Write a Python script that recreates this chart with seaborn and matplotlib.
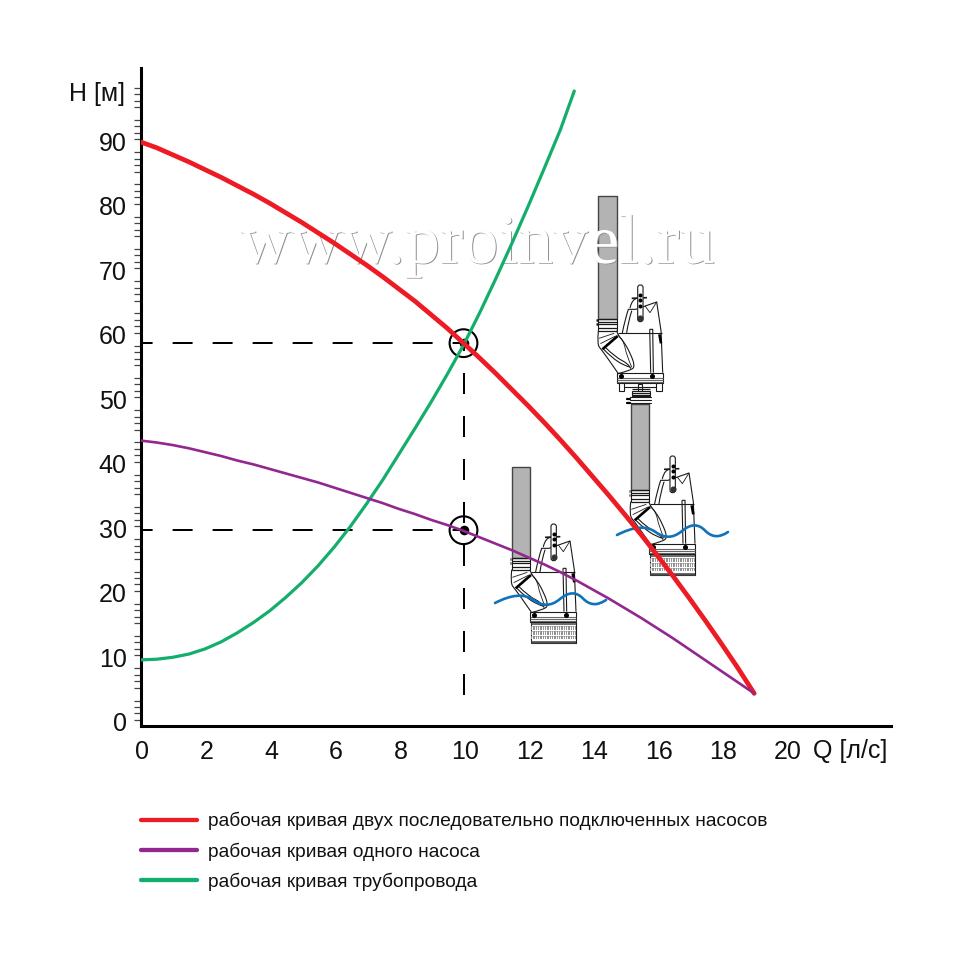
import numpy as np
import matplotlib
matplotlib.use("Agg")
import matplotlib.pyplot as plt
import matplotlib.patheffects as pe
from matplotlib.lines import Line2D
from matplotlib.path import Path
from matplotlib.patches import PathPatch, Rectangle, FancyBboxPatch
from matplotlib.transforms import ScaledTranslation
import seaborn as sns

# values
q_red = [0, 0.5, 1, 1.5, 2, 2.5, 3, 3.5, 4, 4.5, 5, 5.5, 6, 6.5, 7, 7.5, 8, 8.5, 9, 9.5,
         10, 10.5, 11, 11.5, 12, 12.5, 13, 13.5, 14, 14.5, 15, 15.5, 16, 16.5, 17, 17.5, 18, 18.5, 19]
h_red = [90.6, 89.7, 88.6, 87.5, 86.3, 85.1, 83.8, 82.5, 81.1, 79.6, 78.1, 76.5, 74.9, 73.2,
         71.5, 69.7, 67.8, 65.9, 63.8, 61.7, 59.4, 57.1, 54.7, 52.2, 49.7, 47.1, 44.4, 41.6,
         38.7, 35.8, 32.8, 29.7, 26.5, 23.2, 19.8, 16.3, 12.7, 9.0, 5.1]
q_purple = q_red
h_purple = [44.3, 44.0, 43.6, 43.1, 42.5, 41.9, 41.2, 40.6, 39.9, 39.2, 38.5, 37.8, 37.0, 36.2,
            35.4, 34.6, 33.7, 32.9, 32.0, 31.2, 30.3, 29.3, 28.3, 27.3, 26.2, 25.1, 23.9, 22.6,
            21.2, 19.8, 18.3, 16.8, 15.2, 13.6, 11.9, 10.2, 8.5, 6.8, 5.1]
q_green = [0, 0.5, 1, 1.5, 2, 2.5, 3, 3.5, 4, 4.5, 5, 5.5, 6, 6.5, 7, 7.5, 8, 8.5, 9, 9.5,
           10, 10.5, 11, 11.5, 12, 12.5, 13, 13.43]
h_green = [10.3, 10.4, 10.7, 11.2, 12.0, 13.1, 14.5, 16.1, 17.9, 20.0, 22.3, 24.9, 27.8, 31.0,
           34.5, 38.2, 42.2, 46.2, 50.3, 54.6, 59.1, 64.1, 69.4, 74.9, 80.6, 86.5, 92.5, 98.5]

q_points = [10, 10]
h_points = [59.4, 30.4]
h_drop_bottom = 4.9

x_ticks = [0, 2, 4, 6, 8, 10, 12, 14, 16, 18, 20]
y_ticks = [0, 10, 20, 30, 40, 50, 60, 70, 80, 90]
y_minor = [v for v in range(1, 100) if v % 5 != 0]

legend_labels = ["рабочая кривая двух последовательно подключенных насосов",
                 "рабочая кривая одного насоса",
                 "рабочая кривая трубопровода"]

RED = "#ED1C24"
PURPLE = "#92278F"
GREEN = "#14AE6C"
BLUE = "#0F72BA"
PIPE = "#B3B3B3"
INK = "#1a1a1a"

sns.set_style("white")
plt.rcParams["font.family"] = ["Liberation Sans", "DejaVu Sans"]


def curve(ax, pts, lw=0.8, color=INK, z=3):
    # quadratic spline through the midpoints of the given control points
    verts = [pts[0]]
    codes = [Path.MOVETO]
    for i in range(1, len(pts) - 1):
        a, b = pts[i], pts[i + 1]
        end = b if i == len(pts) - 2 else ((a[0] + b[0]) / 2, (a[1] + b[1]) / 2)
        verts += [a, end]
        codes += [Path.CURVE3, Path.CURVE3]
    ax.add_patch(PathPatch(Path(verts, codes), fill=False, lw=lw, ec=color,
                           capstyle="round", zorder=z))


def draw_pump(ax, dx, dy, pipe_top, strainer=True):
    # outline is given in zoomed picture units, 3 units per pixel
    def P(x, y):
        return 495 + x / 3 + dx, 520 + y / 3 + dy

    def poly(pts, **kw):
        curve(ax, [P(*p) for p in pts], **kw)

    def seg(pts, lw=0.8, color=INK):
        xy = np.array([P(*p) for p in pts])
        ax.plot(xy[:, 0], xy[:, 1], color=color, lw=lw, solid_capstyle="butt", zorder=3)

    def rect(x0, y0, x1, y1, fc="white", ec=INK, lw=0.8):
        (a, b), (c, d) = P(x0, y0), P(x1, y1)
        ax.add_patch(Rectangle((a, b), c - a, d - b, fc=fc, ec=ec, lw=lw, zorder=2))

    # pipe and collar
    y_top = (pipe_top - 520 - dy) * 3
    rect(50, y_top, 105, 114, fc=PIPE, ec="#444444", lw=1.0)
    for y in (114, 122, 130, 140, 150):
        seg([(50, y), (105, y)], lw=0.9)
    seg([(50, 114), (50, 150)])
    seg([(105, 114), (105, 150)])
    seg([(44, 117), (49, 117)], lw=1.8)
    seg([(44, 130), (49, 130)], lw=1.8)

    # elbow and volute
    poly([(50, 150), (46, 190), (60, 207), (85, 242), (103, 268), (110, 278)])
    poly([(105, 150), (110, 165), (125, 180), (145, 215), (160, 255), (148, 268), (108, 278)])
    seg([(62, 205), (108, 165)], lw=1.9, color="black")
    seg([(52, 172), (97, 157)], lw=0.6)
    seg([(56, 188), (102, 165)], lw=0.6)
    poly([(66, 205), (90, 230), (130, 255), (144, 258)])
    poly([(72, 200), (100, 228), (140, 248), (147, 262)])
    poly([(108, 162), (125, 175), (135, 225), (150, 258)], lw=0.6)

    # motor body
    poly([(122, 155), (130, 115), (140, 85)])
    poly([(135, 155), (140, 120), (150, 90)])
    seg([(140, 85), (162, 85), (225, 63), (238, 150), (243, 275)])
    seg([(190, 75), (205, 95), (225, 63)], lw=0.6)
    seg([(108, 155), (241, 155)])
    seg([(204, 145), (207, 275)], lw=0.8)
    seg([(215, 275), (213, 145), (204, 145)], lw=0.8)
    seg([(233, 160), (238, 187)], lw=1.9, color="black")
    poly([(145, 80), (152, 52), (168, 52)])
    seg([(150, 52), (196, 50)], lw=1.2)

    # handle
    (a, b), (c, d) = P(168, 12), P(184, 122)
    ax.add_patch(FancyBboxPatch((a, b), c - a, d - b, boxstyle="round,pad=0,rounding_size=2.5",
                                fc="white", ec=INK, lw=0.8, zorder=3))
    for y in (42, 58, 75):
        xy = P(176, y)
        ax.plot(*xy, "o", color="black", ms=1.9, zorder=4)
    xy = P(176, 112)
    ax.plot(*xy, "o", color="#333333", ms=3.4, zorder=4)

    # flange
    rect(106, 275, 243, 307)
    for y in (290, 296, 302):
        seg([(106, y), (243, y)], lw=0.8, color="#666666")
    for x in (118, 212):
        xy = P(x, 284)
        ax.plot(*xy, "o", color="black", ms=2.6, zorder=4)

    if strainer:
        rect(107, 307, 243, 370)
        for y in (312, 366, 370):
            seg([(107, y), (243, y)], lw=1.1, color="#444444")
        for y0, y1 in ((319, 329), (334, 344), (349, 358)):
            rect(108, y0, 242, y1, fc="#8c8c8c", ec="none", lw=0)
            for x in np.arange(112, 240, 7):
                seg([(x, y0), (x, y1)], lw=0.8, color="white")
    else:
        # feet and the discharge seat of the upper pump
        for x0, x1 in ((112, 128), (223, 240)):
            rect(x0, 307, x1, 330, lw=0.8)
        seg([(128, 318), (223, 318)])
        rect(150, 330, 205, 345, lw=0.8)
        for y in (323, 336, 342):
            seg([(150, y), (205, y)], lw=0.9)
        rect(168, 308, 182, 330, lw=0.8)


# figure and axes placed on the 960 px canvas
fig = plt.figure(figsize=(9.6, 9.6), dpi=100, facecolor="white")

back = fig.add_axes([0, 0, 1, 1], zorder=0)
back.set_xlim(0, 960)
back.set_ylim(960, 0)
back.axis("off")

ax = fig.add_axes([140.5 / 960, (960 - 726.3) / 960, 750.5 / 960, 658.3 / 960], zorder=2)
ax.patch.set_alpha(0)
ax.set_xlim(0, 750.5 / 32.3)
ax.set_ylim(0, 658.3 / 6.45)

# pump drawings behind the curves
draw_pump(back, 0, 0, 466.5)
draw_pump(back, 119, -68, 404)
draw_pump(back, 86.7, -239, 196, strainer=False)

# rings on top of the pipe under the upper pump
for y in (397, 400, 403):
    back.plot([630, 651], [y, y], color=INK, lw=0.8, zorder=3)
back.plot([626.5, 629.5], [399, 399], color="black", lw=1.6, zorder=3)
back.plot([626.5, 629.5], [403, 403], color="black", lw=1.6, zorder=3)

back.text(240, 263, "www.proinvel.ru", family="Liberation Serif", fontsize=50.5,
          color="white", ha="left", va="baseline", zorder=4,
          path_effects=[pe.SimplePatchShadow(offset=(0.7, -0.5), shadow_rgbFace="#8f8f8f", alpha=1),
                        pe.Normal()])

for wx, wy in ((0, 0), (122, -68)):
    curve(back, [(495 + wx, 603 + wy), (520 + wx, 590 + wy), (547 + wx, 610 + wy),
                 (573 + wx, 588 + wy), (593 + wx, 609 + wy), (606 + wx, 600 + wy)],
          lw=1.9, color=BLUE, z=5)

# dashed guides
for h in h_points:
    ax.plot([0, q_points[0]], [h, h], color="black", lw=1.44,
            linestyle=(4.2, (10, 10)), zorder=2)
ax.plot([q_points[0], q_points[0]], [h_drop_bottom, h_points[0]], color="black", lw=1.44,
        linestyle=(0, (10.5, 11)), zorder=2)

ax.scatter(q_points, h_points, s=48, color="black", linewidths=0, zorder=3)
ax.scatter(q_points, h_points, s=400, facecolors="none", edgecolors="black",
           linewidths=1.5, zorder=3)

sns.lineplot(x=q_green, y=h_green, ax=ax, color=GREEN, lw=2.3, sort=False,
             estimator=None, errorbar=None, zorder=4)
sns.lineplot(x=q_red, y=h_red, ax=ax, color=RED, lw=3.4, sort=False,
             estimator=None, errorbar=None, zorder=5)
sns.lineplot(x=q_purple, y=h_purple, ax=ax, color=PURPLE, lw=1.9, sort=False,
             estimator=None, errorbar=None, zorder=6)

# axes
for side in ("top", "right"):
    ax.spines[side].set_visible(False)
for side in ("left", "bottom"):
    ax.spines[side].set_linewidth(2.2)
    ax.spines[side].set_color("black")

ax.set_xticks(x_ticks)
ax.set_yticks(y_ticks)
ax.set_yticks(y_minor, minor=True)
ax.tick_params(axis="x", which="major", length=0, pad=10, labelsize=18, labelcolor="#111111")
ax.tick_params(axis="y", which="major", length=0, pad=10, labelsize=18, labelcolor="#111111")
ax.tick_params(axis="y", which="minor", length=5, width=0.9, color="#444444", left=True)

up = ScaledTranslation(0, 4.5 / 100, fig.dpi_scale_trans)
for lab in ax.get_yticklabels():
    lab.set_transform(lab.get_transform() + up)
shift = ScaledTranslation(1.5 / 100, 0, fig.dpi_scale_trans)
for lab in ax.get_xticklabels():
    lab.set_transform(lab.get_transform() + shift)

ax.set_xlabel("Q [л/с]", fontsize=18, color="#111111", ha="left", va="center")
ax.xaxis.set_label_coords((813 - 140.5) / 750.5, (726.3 - 751) / 658.3)
ax.set_ylabel("H [м]", fontsize=18, color="#111111", rotation=0, ha="left", va="center")
ax.yaxis.set_label_coords((69 - 140.5) / 750.5, (726.3 - 94) / 658.3)

# legend with thicker proxies than the curves
handles = [Line2D([], [], color=c, lw=3.1, solid_capstyle="round") for c in (RED, PURPLE, GREEN)]
fs = 13.75
em = fs * 100 / 72
ax.legend(handles, legend_labels, loc="upper left", frameon=False, fontsize=fs,
          bbox_to_anchor=(141 / 960, (960 - 812) / 960), bbox_transform=fig.transFigure,
          borderpad=0, borderaxespad=0, handlelength=56 / em, handletextpad=11 / em,
          labelspacing=12 / em, labelcolor="#111111")

fig.savefig("out.png", dpi=100, facecolor="white")
